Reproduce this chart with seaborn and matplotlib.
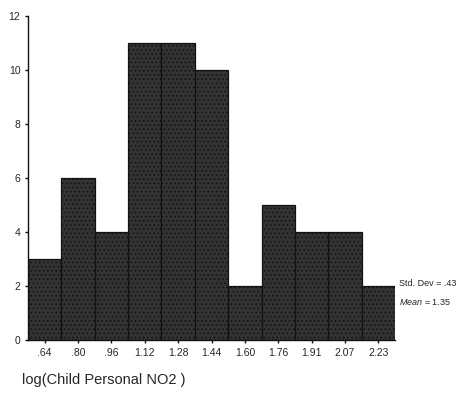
import matplotlib
matplotlib.use("Agg")
import matplotlib.pyplot as plt
import seaborn as sns
import pandas as pd

# Histogram bins (midpoints) and their counts
bin_labels = [".64", ".80", ".96", "1.12", "1.28", "1.44", "1.60", "1.76", "1.91", "2.07", "2.23"]
counts = [3, 6, 4, 11, 11, 10, 2, 5, 4, 4, 2]
y_ticks = [0, 2, 4, 6, 8, 10, 12]
std_dev = ".43"
mean_val = "1.35"

sns.set_style("white")
plt.rcParams["font.family"] = ["Liberation Sans", "DejaVu Sans"]
plt.rcParams["mathtext.fontset"] = "custom"
plt.rcParams["mathtext.it"] = "Liberation Sans:italic"
plt.rcParams["hatch.color"] = "#8a8a8a"

df = pd.DataFrame({"bin": bin_labels, "count": counts})

fig = plt.figure(figsize=(4.70, 4.07), dpi=100)
ax = fig.add_axes([28 / 470, 1 - 340 / 407, (395 - 28) / 470, (340 - 16) / 407])

sns.barplot(data=df, x="bin", y="count", order=bin_labels, width=1.0,
            color="#333333", saturation=1, edgecolor="#111111", linewidth=0.9,
            hatch="....", ax=ax)
# speckled grey texture on the dark bars
for p in ax.patches:
    if hasattr(p, "set_hatchcolor"):
        p.set_hatchcolor("#8a8a8a")
    if hasattr(p, "set_hatch_linewidth"):
        p.set_hatch_linewidth(0.6)

ax.set_xlim(-0.5, len(bin_labels) - 0.5)
ax.set_ylim(0, 12)
ax.set_yticks(y_ticks)
ax.set_yticklabels([str(v) for v in y_ticks])
ax.set_xlabel("")
ax.set_ylabel("")

for side in ("top", "right"):
    ax.spines[side].set_visible(False)
for side in ("left", "bottom"):
    ax.spines[side].set_color("#111111")
    ax.spines[side].set_linewidth(1.0)

ax.tick_params(axis="both", which="major", length=2.5, width=1.0, color="#111111",
               labelsize=7.5, pad=3, left=True, bottom=True)

ax.text(1.012, 2.1, f"Std. Dev = {std_dev}", transform=ax.get_yaxis_transform(),
        fontsize=6.5, va="center", ha="left")
ax.text(1.012, 1.4, r"$\it{Mean}$" + f" = {mean_val}", transform=ax.get_yaxis_transform(),
        fontsize=6.5, va="center", ha="left")

fig.text(22 / 470, 1 - 380 / 407, "log(Child Personal NO2 )", fontsize=10.5,
         ha="left", va="center")

fig.savefig("out.png", dpi=100)
